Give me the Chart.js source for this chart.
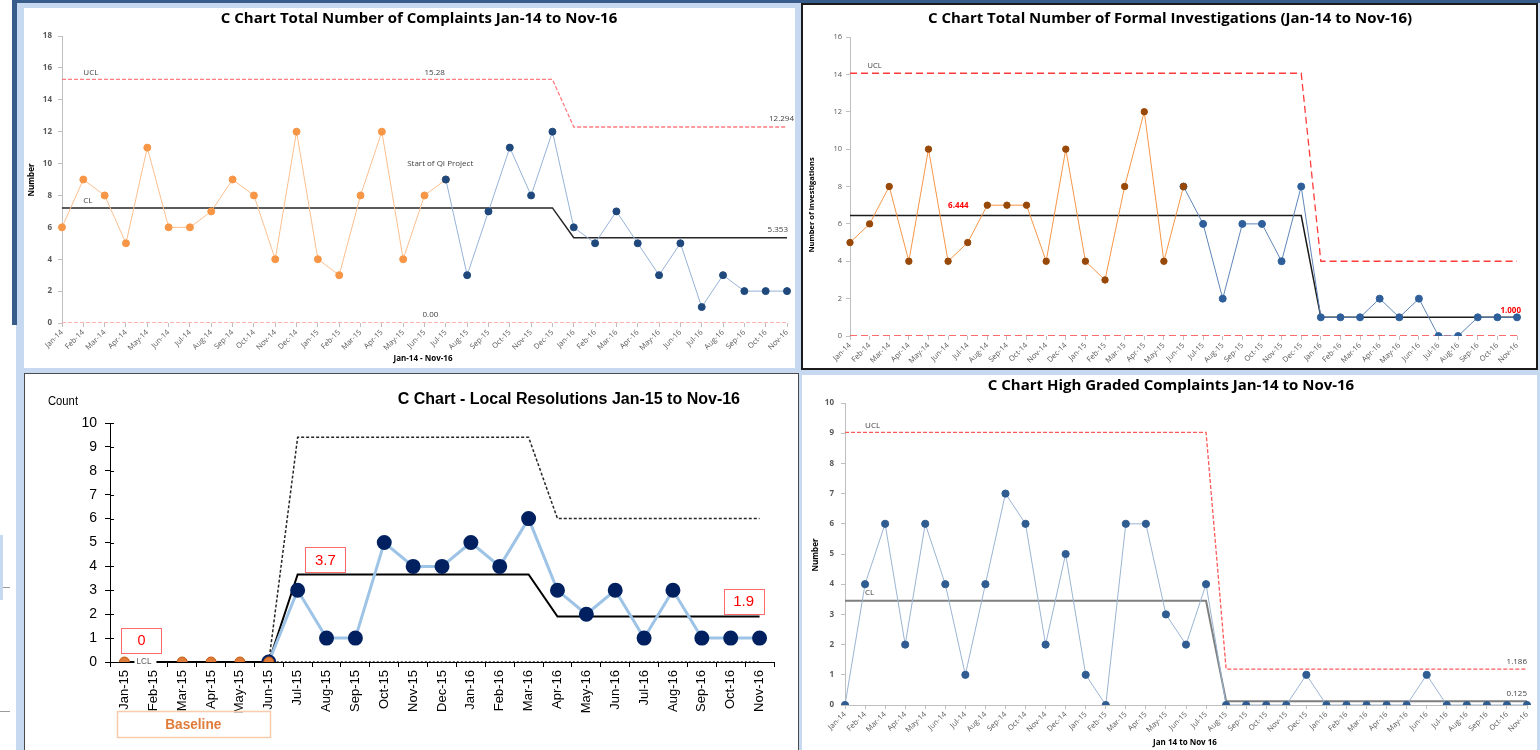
<!DOCTYPE html>
<html>
<head>
<meta charset="utf-8">
<script src="https://cdn.jsdelivr.net/npm/chart.js@4"></script>
<style>
  html, body { margin: 0; padding: 0; }
  body { width: 1540px; height: 750px; position: relative; overflow: hidden; background: #fff; }
  .bg { position: absolute; left: 16px; top: 0; width: 1524px; height: 750px; background: #c6d9f1; }
  .topbar { position: absolute; left: 12px; top: 0; width: 1528px; height: 3px; background: #385d8a; }
  .leftbar { position: absolute; left: 12px; top: 0; width: 5px; height: 325px; background: #385d8a; }
  .mark { position: absolute; left: 0; width: 10px; height: 1px; background: #9a9a9a; }
  .panel { position: absolute; background: #fff; }
  .panel canvas { position: absolute; left: 0; top: 0; }
  #pA { left: 24px; top: 8px; width: 771px; height: 360px; }
  #pB { left: 801px; top: 3px; width: 733px; height: 363px; border: 2px solid #1b1b1b; }
  #pC { left: 24px; top: 373px; width: 773px; height: 376px; border: 1px solid #4a4a4a; }
  #pD { left: 802px; top: 375px; width: 735px; height: 375px; }
</style>
</head>
<body>
<div class="bg"></div>
<div class="topbar"></div>
<div class="leftbar"></div>
<div class="mark" style="top:587px"></div>
<div class="mark" style="top:711px"></div>
<div style="position:absolute;left:0;top:535px;width:3px;height:65px;background:#c6d9f1"></div>

<div class="panel" id="pA"><canvas id="chartA" width="771" height="360"></canvas></div>
<div class="panel" id="pB"><canvas id="chartB" width="733" height="363"></canvas></div>
<div class="panel" id="pC"><canvas id="chartC" width="773" height="376"></canvas></div>
<div class="panel" id="pD"><canvas id="chartD" width="735" height="375"></canvas></div>

<script>
// --- DATA ---
const months = ['Jan-14', 'Feb-14', 'Mar-14', 'Apr-14', 'May-14', 'Jun-14', 'Jul-14', 'Aug-14', 'Sep-14', 'Oct-14', 'Nov-14', 'Dec-14',
                'Jan-15', 'Feb-15', 'Mar-15', 'Apr-15', 'May-15', 'Jun-15', 'Jul-15', 'Aug-15', 'Sep-15', 'Oct-15', 'Nov-15', 'Dec-15',
                'Jan-16', 'Feb-16', 'Mar-16', 'Apr-16', 'May-16', 'Jun-16', 'Jul-16', 'Aug-16', 'Sep-16', 'Oct-16', 'Nov-16'];
const monthsC = ['Jan-15', 'Feb-15', 'Mar-15', 'Apr-15', 'May-15', 'Jun-15', 'Jul-15', 'Aug-15', 'Sep-15', 'Oct-15', 'Nov-15', 'Dec-15',
                 'Jan-16', 'Feb-16', 'Mar-16', 'Apr-16', 'May-16', 'Jun-16', 'Jul-16', 'Aug-16', 'Sep-16', 'Oct-16', 'Nov-16'];

// Total number of complaints
const complaints = [6, 9, 8, 5, 11, 6, 6, 7, 9, 8, 4, 12, 4, 3, 8, 12, 4, 8, 9, 3, 7, 11, 8, 12, 6, 5, 7, 5, 3, 5, 1, 3, 2, 2, 2];
const clA = [7.22, 5.353];
const uclA = [15.28, 12.294];
const lclA = [0, 0];
const phaseA = [0, 24];      // new limits from Jan-16
const qiStartA = 18;         // Jul-15, start of QI project

// Formal investigations
const investigations = [5, 6, 8, 4, 10, 4, 5, 7, 7, 7, 4, 10, 4, 3, 8, 12, 4, 8, 6, 2, 6, 6, 4, 8, 1, 1, 1, 2, 1, 2, 0, 0, 1, 1, 1];
const clB = [6.444, 1.0];
const uclB = [14.06, 4.0];
const lclB = [0, 0];
const phaseB = [0, 24];
const qiStartB = 17;         // Jun-15

// Local resolutions (Jan-15 to Nov-16)
const resolutions = [0, null, 0, 0, 0, 0, 3, 1, 1, 5, 4, 4, 5, 4, 6, 3, 2, 3, 1, 3, 1, 1, 1];
const clC = [0, 3.66, 1.9];
const uclC = [0, 9.4, 6.0];
const lclC = [0, 0, 0];
const phaseC = [0, 6, 15];
const baselineEndC = 5;      // Jun-15

// High graded complaints
const highGraded = [0, 4, 6, 2, 6, 4, 1, 4, 7, 6, 2, 5, 1, 0, 6, 6, 3, 2, 4, 0, 0, 0, 0, 1, 0, 0, 0, 0, 0, 1, 0, 0, 0, 0, 0];
const clD = [3.45, 0.125];
const uclD = [9.03, 1.186];
const phaseD = [0, 19];      // new limits from Aug-15

// --- HELPERS ---
function stepLine(levels, starts, n, from) {
    const out = [];
    for (let i = 0; i < n; i++) {
        if (from !== undefined && i < from) { out.push(null); continue; }
        let k = 0;
        for (let j = 0; j < starts.length; j++) if (i >= starts[j]) k = j;
        out.push(levels[k]);
    }
    return out;
}

function limitSet(data, color, width, dash) {
    return { data: data, borderColor: color, borderWidth: width, borderDash: dash || [], pointRadius: 0, fill: false, tension: 0 };
}

function text(ctx, s, x, y, o) {
    ctx.save();
    ctx.font = o.font;
    ctx.fillStyle = o.color || '#404040';
    ctx.textAlign = o.align || 'left';
    ctx.textBaseline = 'middle';
    if (o.rotate) { ctx.translate(x, y); ctx.rotate(o.rotate); x = 0; y = 0; }
    if (o.maxWidth) ctx.fillText(s, x, y, o.maxWidth); else ctx.fillText(s, x, y);
    ctx.restore();
}

// fixed plot area: y axis width, x axis height, top & right padding
function baseOptions(box, yMax, yStep, tickFont, labelFont, extra) {
    const e = extra || {};
    return {
        responsive: false,
        animation: false,
        events: [],
        layout: { padding: { left: 0, top: box.top, right: box.right, bottom: 0 } },
        plugins: { legend: { display: false }, tooltip: { enabled: false } },
        scales: {
            x: {
                type: 'category',
                offset: !!e.offset,
                afterFit: function (s) { s.height = box.xh; s.paddingLeft = 0; s.paddingRight = 0; },
                grid: { drawOnChartArea: false, drawTicks: true, tickLength: e.xTick || 4, color: e.axisColor || '#bfbfbf', offset: !!e.offset },
                border: { display: e.xBorder !== false, color: e.axisColor || '#bfbfbf', width: 1 },
                ticks: { autoSkip: false, minRotation: e.rot || 45, maxRotation: e.rot || 45, padding: e.xPad || 1, color: e.tickColor || '#595959', font: labelFont }
            },
            y: {
                min: 0, max: yMax,
                afterFit: function (s) { s.width = box.yw; s.paddingTop = 0; s.paddingBottom = 0; },
                grid: { drawOnChartArea: false, drawTicks: true, tickLength: 4, color: e.axisColor || '#bfbfbf' },
                border: { display: true, color: e.axisColor || '#bfbfbf', width: 1 },
                ticks: { stepSize: yStep, padding: box.yPad, color: e.tickColor || '#595959', font: tickFont }
            }
        }
    };
}

document.addEventListener('DOMContentLoaded', function () {

    const smallTick = { family: 'Open Sans', size: 8, weight: 'bold' };
    const smallLabel = { family: 'Open Sans', size: 7.5 };
    const noteFont = '8px "Open Sans"';

    // 1. Total number of complaints
    new Chart(document.getElementById('chartA'), {
        type: 'line',
        data: {
            labels: months,
            datasets: [
                { data: complaints.map((v, i) => i >= qiStartA ? v : null), borderColor: '#95b3d7', borderWidth: 1,
                  pointRadius: 3.5, pointBackgroundColor: '#1f497d', pointBorderColor: '#1f497d', tension: 0 },
                { data: complaints.map((v, i) => i <= qiStartA ? v : null), borderColor: '#fbbf8f', borderWidth: 1,
                  pointRadius: 3.5, pointBackgroundColor: '#f79646', pointBorderColor: '#f79646', tension: 0 },
                limitSet(stepLine(clA, phaseA, months.length), '#262626', 1.5),
                limitSet(stepLine(uclA, phaseA, months.length), '#ff7c80', 1.3, [4, 2]),
                limitSet(stepLine(lclA, phaseA, months.length), '#ff9c9c', 1.3, [4, 2])
            ]
        },
        options: baseOptions({ top: 28, right: 8, yw: 38, xh: 45, yPad: 6 }, 18, 2, smallTick, smallLabel, { xBorder: false }),
        plugins: [{
            id: 'notesA',
            afterDraw: function (chart) {
                const ctx = chart.ctx, x = chart.scales.x, y = chart.scales.y;
                const last = months.length - 1;
                text(ctx, 'C Chart Total Number of Complaints Jan-14 to Nov-16', 395, 11,
                     { font: 'bold 15px "Open Sans"', color: '#000', align: 'center', maxWidth: 432 });
                text(ctx, 'Number', 8, 172, { font: 'bold 8px "Open Sans"', color: '#000', align: 'center', rotate: -Math.PI / 2 });
                text(ctx, 'Jan-14 - Nov-16', 399, 351, { font: 'bold 8px "Open Sans"', color: '#000', align: 'center' });
                text(ctx, 'UCL', x.getPixelForValue(1), y.getPixelForValue(uclA[0]) - 7, { font: noteFont });
                text(ctx, uclA[0].toFixed(2), x.getPixelForValue(17), y.getPixelForValue(uclA[0]) - 7, { font: noteFont });
                text(ctx, uclA[1].toFixed(3), x.getPixelForValue(last) + 7, y.getPixelForValue(uclA[1]) - 8, { font: noteFont, align: 'right' });
                text(ctx, 'CL', x.getPixelForValue(1), y.getPixelForValue(clA[0]) - 7, { font: noteFont });
                text(ctx, clA[1].toFixed(3), x.getPixelForValue(last) + 1, y.getPixelForValue(clA[1]) - 8, { font: noteFont, align: 'right' });
                text(ctx, lclA[0].toFixed(2), x.getPixelForValue(17) - 2, y.getPixelForValue(0) - 8, { font: noteFont });
                text(ctx, 'Start of QI Project', x.getPixelForValue(16) + 4, y.getPixelForValue(10), { font: noteFont });
            }
        }]
    });

    // 2. Formal investigations
    new Chart(document.getElementById('chartB'), {
        type: 'line',
        data: {
            labels: months,
            datasets: [
                { data: investigations.map((v, i) => i <= qiStartB ? v : null), borderColor: '#f79646', borderWidth: 1,
                  pointRadius: 3.2, pointBackgroundColor: '#984807', pointBorderColor: '#984807', tension: 0 },
                { data: investigations.map((v, i) => i >= qiStartB ? v : null), borderColor: '#5f86b8', borderWidth: 1,
                  pointRadius: 3.5, pointBackgroundColor: '#2e5f9a', pointBorderColor: '#2e5f9a', tension: 0 },
                limitSet(stepLine(clB, phaseB, months.length), '#1a1a1a', 1.5),
                limitSet(stepLine(uclB, phaseB, months.length), '#ff3b3b', 1.3, [7, 4]),
                limitSet(stepLine(lclB, phaseB, months.length), '#ff3b3b', 1.3, [7, 4])
            ]
        },
        options: baseOptions({ top: 32, right: 19, yw: 47, xh: 32, yPad: 4 }, 16, 2,
                             { family: 'Open Sans', size: 7.5 }, smallLabel, { xBorder: false }),
        plugins: [{
            id: 'notesB',
            afterDraw: function (chart) {
                const ctx = chart.ctx, x = chart.scales.x, y = chart.scales.y;
                const last = months.length - 1;
                text(ctx, 'C Chart Total Number of Formal Investigations (Jan-14 to Nov-16)', 367, 14,
                     { font: 'bold 15px "Open Sans"', color: '#000', align: 'center', maxWidth: 487 });
                text(ctx, 'Number of investigations', 9, 200, { font: 'bold 7.5px "Open Sans"', color: '#000', align: 'center', rotate: -Math.PI / 2 });
                text(ctx, 'UCL', x.getPixelForValue(1) - 2, y.getPixelForValue(uclB[0]) - 7, { font: '7.5px "Open Sans"' });
                text(ctx, clB[0].toFixed(3), x.getPixelForValue(5), y.getPixelForValue(clB[0]) - 10,
                     { font: 'bold 8px "Open Sans"', color: '#ff0000' });
                text(ctx, clB[1].toFixed(3), x.getPixelForValue(last) + 4, y.getPixelForValue(clB[1]) - 7,
                     { font: 'bold 8px "Open Sans"', color: '#ff0000', align: 'right' });
            }
        }]
    });

    // 3. Local resolutions
    const optsC = baseOptions({ top: 49, right: 24, yw: 85, xh: 88, yPad: 8 }, 10, 1,
                              { family: 'Liberation Sans', size: 14 }, { family: 'Liberation Sans', size: 13 },
                              { offset: true, rot: 90, xTick: 5, xPad: 3, axisColor: '#000', tickColor: '#000' });
    optsC.scales.y.grid.tickLength = 5;
    new Chart(document.getElementById('chartC'), {
        type: 'line',
        data: {
            labels: monthsC,
            datasets: [
                { data: resolutions.map((v, i) => i <= baselineEndC ? v : null), showLine: false,
                  pointRadius: 5, pointBackgroundColor: '#e07b39', pointBorderColor: '#c55a11', pointBorderWidth: 1 },
                { data: resolutions.map((v, i) => i >= baselineEndC ? v : null), borderColor: '#9dc3e6', borderWidth: 3,
                  pointRadius: 6, pointBackgroundColor: '#002060', pointBorderColor: '#002060', tension: 0 },
                limitSet(stepLine(clC, phaseC, monthsC.length), '#000', 2),
                limitSet(stepLine(uclC, phaseC, monthsC.length, baselineEndC), '#262626', 1.5, [3, 2]),
                limitSet(stepLine(lclC, phaseC, monthsC.length, baselineEndC), '#262626', 1.5, [2, 2])
            ]
        },
        options: optsC,
        plugins: [{
            id: 'notesC',
            afterDraw: function (chart) {
                const ctx = chart.ctx, x = chart.scales.x, y = chart.scales.y;
                const area = chart.chartArea;
                text(ctx, 'C Chart - Local Resolutions Jan-15 to Nov-16', 715, 26,
                     { font: 'bold 16px "Liberation Sans"', color: '#000', align: 'right', maxWidth: 363 });
                text(ctx, 'Count', 23, 28, { font: '12px "Liberation Sans"', color: '#000', maxWidth: 30 });
                // inner halves of the y tick marks
                ctx.save();
                ctx.strokeStyle = '#000';
                ctx.lineWidth = 1;
                y.ticks.forEach(function (t) {
                    const py = Math.round(y.getPixelForValue(t.value)) + 0.5;
                    ctx.beginPath(); ctx.moveTo(area.left, py); ctx.lineTo(area.left + 4, py); ctx.stroke();
                });
                ctx.restore();
                // LCL tag
                const lx = x.getPixelForValue(0) + 12, ly = y.getPixelForValue(0);
                ctx.fillStyle = '#fff';
                ctx.fillRect(lx - 2, ly - 5, 22, 10);
                text(ctx, 'LCL', lx, ly, { font: '9px "Liberation Sans"', color: '#595959', maxWidth: 15 });
                // value boxes
                const boxes = [['0', 0.59, 0.92], [clC[1].toFixed(1), 6.96, 4.27], [clC[2].toFixed(1), 21.45, 2.55]];
                boxes.forEach(function (b) {
                    const cx = x.getPixelForValue(b[1]), cy = y.getPixelForValue(b[2]);
                    ctx.save();
                    ctx.fillStyle = '#fff';
                    ctx.fillRect(cx - 20, cy - 12.5, 40, 25);
                    ctx.strokeStyle = '#ff6b6b';
                    ctx.lineWidth = 1;
                    ctx.strokeRect(Math.round(cx - 20) + 0.5, Math.round(cy - 12.5) + 0.5, 40, 25);
                    ctx.restore();
                    text(ctx, b[0], cx, cy + 1, { font: '15px "Liberation Sans"', color: '#ff0000', align: 'center', maxWidth: b[0].length * 7 + 1 });
                });
                // baseline box
                const bx0 = x.getPixelForValue(-0.27), bx1 = x.getPixelForValue(baselineEndC + 0.04);
                ctx.save();
                ctx.strokeStyle = '#f8cbad';
                ctx.lineWidth = 1.5;
                ctx.strokeRect(Math.round(bx0) + 0.5, area.bottom + 49.5, Math.round(bx1 - bx0), 26);
                ctx.restore();
                text(ctx, 'Baseline', (bx0 + bx1) / 2, area.bottom + 63,
                     { font: 'bold 14px "Liberation Sans"', color: '#e07b39', align: 'center', maxWidth: 56 });
            }
        }]
    });

    // 4. High graded complaints
    new Chart(document.getElementById('chartD'), {
        type: 'line',
        data: {
            labels: months,
            datasets: [
                { data: highGraded, borderColor: '#9bb4d3', borderWidth: 1,
                  pointRadius: 3.6, pointBackgroundColor: '#2f5d91', pointBorderColor: '#2f5d91', tension: 0 },
                limitSet(stepLine(clD, phaseD, months.length), '#7f7f7f', 2),
                limitSet(stepLine(uclD, phaseD, months.length), '#ff5b5b', 1.3, [4, 2])
            ]
        },
        options: baseOptions({ top: 28, right: 10, yw: 43, xh: 45, yPad: 7 }, 10, 1, smallTick, smallLabel),
        plugins: [{
            id: 'notesD',
            afterDraw: function (chart) {
                const ctx = chart.ctx, x = chart.scales.x, y = chart.scales.y;
                const last = months.length - 1;
                text(ctx, 'C Chart High Graded Complaints Jan-14 to Nov-16', 369, 11,
                     { font: 'bold 15px "Open Sans"', color: '#000', align: 'center', maxWidth: 376 });
                text(ctx, 'Number', 14, 180, { font: 'bold 8px "Open Sans"', color: '#000', align: 'center', rotate: -Math.PI / 2 });
                text(ctx, 'Jan 14 to Nov 16', 383, 368, { font: 'bold 8px "Open Sans"', color: '#000', align: 'center' });
                text(ctx, 'UCL', x.getPixelForValue(1), y.getPixelForValue(uclD[0]) - 7, { font: noteFont });
                text(ctx, 'CL', x.getPixelForValue(1), y.getPixelForValue(clD[0]) - 8, { font: noteFont });
                text(ctx, uclD[1].toFixed(3), x.getPixelForValue(last), y.getPixelForValue(uclD[1]) - 7, { font: noteFont, align: 'right' });
                text(ctx, clD[1].toFixed(3), x.getPixelForValue(last), y.getPixelForValue(clD[1]) - 8, { font: noteFont, align: 'right' });
            }
        }]
    });
});
</script>
</body>
</html>
